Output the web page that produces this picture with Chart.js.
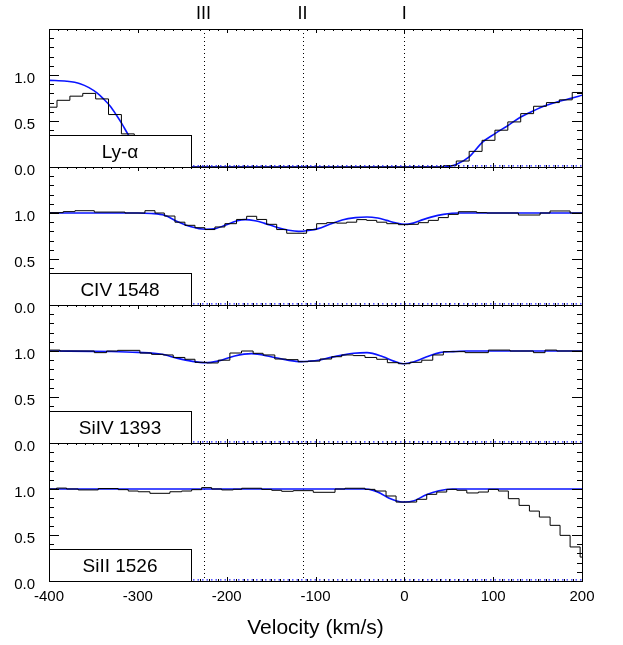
<!DOCTYPE html>
<html><head><meta charset="utf-8">
<script src="https://cdn.jsdelivr.net/npm/chart.js@4.4.1/dist/chart.umd.min.js"></script>
<style>html,body{margin:0;padding:0;background:#fff}canvas{display:block}</style>
</head><body>
<canvas id="c" width="623" height="645"></canvas>
<script>
// ---------- data ----------
const panelNames = ['Ly-\u03B1', 'CIV 1548', 'SiIV 1393', 'SiII 1526'];
const componentNames = ['III', 'II', 'I'];
const componentVel = [-226, -114.6, 0];
const xTickValues = [-400, -300, -200, -100, 0, 100, 200];
const zeroLevel = [0.012, 0.012];
const zeroLevelVel = [-400, 200];

// Ly-alpha
const lyaEdges = [-405.5, -391, -376.5, -362, -347.5, -333, -318.5, -304, 44, 58.5, 73, 87.5, 102, 116.5, 131, 145.5, 160, 174.5, 189, 200];
const lyaFlux  = [0.65, 0.725, 0.77, 0.80, 0.74, 0.57, 0.36, 0.0, 0.015, 0.065, 0.17, 0.29, 0.40, 0.49, 0.58, 0.66, 0.70, 0.73, 0.81, 0.81];
const lyaFitVel  = [-400, -380, -365, -355, -346, -339, -331, -324, -318, -311.5, -300, -290, -280, -270, 45, 51.4, 59, 73, 88, 102, 117, 131, 145, 160, 174.5, 189, 200];
const lyaFitFlux = [0.942, 0.932, 0.906, 0.863, 0.805, 0.743, 0.66, 0.562, 0.471, 0.363, 0.2, 0.08, 0.02, 0, 0, 0.008, 0.03, 0.11, 0.27, 0.363, 0.453, 0.543, 0.609, 0.67, 0.714, 0.75, 0.78];

// CIV 1548
const civEdges = [-404.7, -384, -370.8, -349, -314.5, -292, -280.7, -270.2, -258.2, -247, -235.7, -224.5, -213.2, -202, -188.9, -177.5, -166.2, -155, -143.7, -132.4, -110, -98.7, -87.4, -76.2, -64.9, -53.6, -42.4, -31.1, -19.8, -6.7, 4.5, 15.8, 27.0, 38.3, 49.5, 60.8, 81.5, 92.8, 128.4, 152.8, 164.0, 186.6, 200];
const civFlux  = [1.004, 1.015, 1.025, 1.01, 1.0, 1.025, 1.0, 0.967, 0.90, 0.866, 0.84, 0.82, 0.848, 0.884, 0.93, 0.964, 0.93, 0.877, 0.82, 0.78, 0.82, 0.884, 0.895, 0.89, 0.90, 0.928, 0.92, 0.90, 0.884, 0.873, 0.877, 0.895, 0.92, 0.95, 0.985, 1.014, 1.004, 1.0, 0.978, 1.0, 1.022, 1.0, 1.0];
const civFitVel  = [-400, -300, -285, -270, -255, -240, -224.5, -212, -202, -189, -179, -168, -158, -142, -130, -119, -108, -97, -84, -70, -55, -42, -30, -20, -10, 0, 10, 21, 30, 44, 62, 200];
const civFitFlux = [1.0, 1.0, 0.995, 0.975, 0.905, 0.85, 0.823, 0.832, 0.866, 0.913, 0.928, 0.915, 0.89, 0.84, 0.812, 0.80, 0.81, 0.83, 0.877, 0.925, 0.95, 0.957, 0.945, 0.92, 0.895, 0.877, 0.89, 0.928, 0.955, 0.985, 1.0, 1.0];

// SiIV 1393
const siivEdges = [-404, -387.7, -349, -335.2, -322.8, -297.7, -284.6, -271.4, -260.2, -247, -235.7, -222.6, -209.5, -196.4, -183.3, -170.2, -159, -145.8, -132.7, -119.6, -108.4, -94.9, -81.8, -70.5, -57.4, -44.3, -31.1, -19.1, -6.7, 6.4, 19.6, 32.0, 43.9, 68.4, 94.6, 119, 145.3, 158.4, 171.6, 200];
const siivFlux  = [1.01, 1.0, 0.982, 1.0, 1.007, 0.978, 0.964, 0.957, 0.93, 0.91, 0.877, 0.87, 0.90, 0.978, 1.0, 0.975, 0.957, 0.913, 0.906, 0.884, 0.89, 0.913, 0.938, 0.957, 0.95, 0.93, 0.91, 0.873, 0.862, 0.877, 0.90, 0.957, 0.993, 0.982, 1.01, 1.0, 0.982, 1.01, 1.0, 1.0];
const siivFitVel  = [-400, -330, -300, -273, -255, -240, -224.5, -210, -191, -172, -150, -131, -116, -106, -97, -84, -70, -57, -42, -24, -12, -1, 10, 21, 30, 40, 55, 70, 200];
const siivFitFlux = [1.0, 0.995, 0.985, 0.964, 0.92, 0.89, 0.873, 0.89, 0.946, 0.971, 0.938, 0.90, 0.884, 0.89, 0.90, 0.928, 0.955, 0.975, 0.982, 0.938, 0.89, 0.862, 0.88, 0.92, 0.955, 0.982, 0.993, 1.0, 1.0];

// SiII 1526
const siiiEdges = [-404, -391.5, -380.2, -367.1, -344.6, -322.1, -310.8, -299.5, -286.4, -263.9, -250.7, -239.4, -228.2, -216.9, -205.6, -192.6, -183.1, -160.6, -149.3, -138.1, -125, -102.5, -78, -66.8, -44.3, -33, -20.6, -9.3, 13.9, 25.2, 36.5, 47.7, 59, 70.3, 83.3, 94.6, 105.9, 117.1, 129.2, 140.8, 152, 164.1, 175.3, 186.6, 197.9, 200];
const siiiFlux  = [1.0, 1.01, 1.0, 0.99, 1.005, 0.993, 0.978, 0.97, 0.953, 0.97, 0.978, 0.993, 1.015, 1.0, 0.99, 0.997, 1.008, 0.996, 0.986, 0.975, 0.982, 0.964, 1.0, 1.008, 0.996, 0.978, 0.924, 0.858, 0.888, 0.942, 0.967, 0.996, 0.986, 0.957, 0.967, 0.996, 0.978, 0.895, 0.822, 0.76, 0.695, 0.605, 0.496, 0.37, 0.26, 0.26];
const siiiFitVel  = [-400, -45, -35, -27, -17, -5, 0, 11, 24, 39, 54, 200];
const siiiFitFlux = [1.0, 1.0, 0.985, 0.953, 0.9, 0.862, 0.858, 0.873, 0.935, 0.982, 1.0, 1.0];

// ---------- layout / style ----------
const FONT = "'Liberation Sans', Arial, Helvetica, sans-serif";
const labelBoxVelMax = -240;
const labelBoxFluxMax = 0.35;
const panelAxes = ['y1', 'y2', 'y3', 'y4'];

const toPts = (xs, ys) => xs.map((x, i) => ({x: x, y: ys[i]}));
const panels = [
  {edges: lyaEdges, flux: lyaFlux, fv: lyaFitVel, ff: lyaFitFlux},
  {edges: civEdges, flux: civFlux, fv: civFitVel, ff: civFitFlux},
  {edges: siivEdges, flux: siivFlux, fv: siivFitVel, ff: siivFitFlux},
  {edges: siiiEdges, flux: siiiFlux, fv: siiiFitVel, ff: siiiFitFlux}
];

const datasets = [];
panels.forEach((p, i) => {
  const yid = panelAxes[i];
  datasets.push({
    data: toPts(zeroLevelVel, zeroLevel), yAxisID: yid, xAxisID: 'x',
    borderColor: '#2020ff', borderWidth: 1.2, borderDash: [1.5, 3], pointRadius: 0, fill: false
  });
  datasets.push({
    data: toPts(p.edges, p.flux), yAxisID: yid, xAxisID: 'x', stepped: 'before',
    borderColor: '#000', borderWidth: 1, pointRadius: 0, fill: false
  });
  datasets.push({
    data: toPts(p.fv, p.ff), yAxisID: yid, xAxisID: 'x', cubicInterpolationMode: 'monotone',
    borderColor: '#0a14ff', borderWidth: 1.6, pointRadius: 0, fill: false
  });
});

const yScale = (w) => ({
  type: 'linear', position: 'left', stack: 'panels', weight: w, min: 0, max: 1.5,
  grid: {display: false, drawTicks: false}, border: {display: false},
  ticks: {
    stepSize: 0.5, autoSkip: false, padding: 14, labelOffset: 4,
    color: '#000', font: {family: FONT, size: 15},
    callback: (v) => (v < 1.4 ? Number(v).toFixed(1) : '')
  },
  afterFit: (s) => { s.width = 49; }
});

const decoPlugin = {
  id: 'deco',
  beforeDatasetsDraw(chart) {
    const ctx = chart.ctx, xs = chart.scales.x, a = chart.chartArea;
    ctx.save();
    ctx.strokeStyle = '#000'; ctx.lineWidth = 1; ctx.setLineDash([1, 3]);
    componentVel.forEach((v) => {
      const x = Math.round(xs.getPixelForValue(v)) + 0.5;
      ctx.beginPath(); ctx.moveTo(x, a.top); ctx.lineTo(x, a.bottom); ctx.stroke();
    });
    ctx.restore();
  },
  afterDatasetsDraw(chart) {
    const ctx = chart.ctx, xs = chart.scales.x;
    const L = Math.round(xs.left), R = Math.round(xs.right);
    ctx.save();
    ctx.setLineDash([]);
    panelAxes.forEach((id, i) => {
      const ys = chart.scales[id];
      const T = Math.round(ys.top), B = Math.round(ys.bottom);
      ctx.strokeStyle = '#000'; ctx.lineWidth = 1;
      for (let k = 1; k < 15; k++) {
        const y = Math.round(ys.getPixelForValue(k / 10)) + 0.5;
        const len = (k % 5 === 0) ? 10 : 5;
        ctx.beginPath();
        ctx.moveTo(L, y); ctx.lineTo(L + len, y);
        ctx.moveTo(R, y); ctx.lineTo(R - len, y);
        ctx.stroke();
      }
      for (let v = -390; v < 200; v += 10) {
        const x = Math.round(xs.getPixelForValue(v)) + 0.5;
        const len = (v % 100 === 0) ? 4 : 2;
        ctx.beginPath();
        ctx.moveTo(x, T); ctx.lineTo(x, T + len);
        ctx.moveTo(x, B); ctx.lineTo(x, B - len);
        ctx.stroke();
      }
      const bx = Math.round(xs.getPixelForValue(labelBoxVelMax));
      const by = Math.round(ys.getPixelForValue(labelBoxFluxMax));
      ctx.fillStyle = '#fff';
      ctx.fillRect(L, by, bx - L, B - by);
      ctx.strokeRect(L + 0.5, by + 0.5, bx - L, B - by);
      ctx.fillStyle = '#000';
      ctx.font = '19px ' + FONT;
      ctx.textAlign = 'center'; ctx.textBaseline = 'middle';
      ctx.fillText(panelNames[i], (L + bx) / 2, (by + B) / 2 + 2);
      ctx.strokeRect(L + 0.5, T + 0.5, R - L, B - T);
    });
    ctx.fillStyle = '#000';
    ctx.font = '18px ' + FONT;
    ctx.textAlign = 'center'; ctx.textBaseline = 'middle';
    componentVel.forEach((v, i) => {
      ctx.fillText(componentNames[i], xs.getPixelForValue(v), 14);
    });
    ctx.restore();
  }
};

new Chart(document.getElementById('c'), {
  type: 'line',
  data: {datasets: datasets},
  plugins: [decoPlugin],
  options: {
    responsive: false, animation: false, devicePixelRatio: 1,
    layout: {padding: {top: 29, right: 41, left: 0, bottom: 0}},
    plugins: {legend: {display: false}, tooltip: {enabled: false}},
    elements: {line: {tension: 0}},
    scales: {
      x: {
        type: 'linear', position: 'bottom', min: -400, max: 200,
        grid: {display: false, drawTicks: false}, border: {display: false},
        afterBuildTicks: (s) => { s.ticks = xTickValues.map((v) => ({value: v})); },
        ticks: {color: '#000', font: {family: FONT, size: 15}, padding: 7, maxRotation: 0, autoSkip: false},
        title: {display: true, text: 'Velocity (km/s)', color: '#000', font: {family: FONT, size: 21}, padding: {top: 0, bottom: 4}},
        afterFit: (s) => { s.height = 64; }
      },
      y4: yScale(1),
      y3: yScale(2),
      y2: yScale(3),
      y1: yScale(4)
    }
  }
});
</script>
</body></html>
